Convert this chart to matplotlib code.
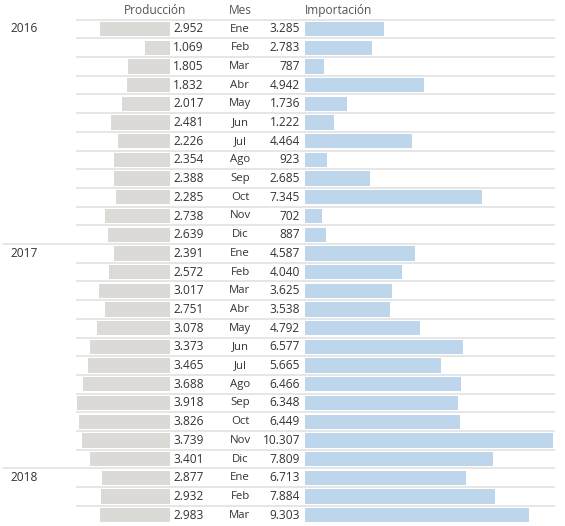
import numpy as np
import matplotlib
matplotlib.use("Agg")
from matplotlib import pyplot as plt

plt.rcParams['font.family'] = ['Open Sans', 'DejaVu Sans']

years = ["2016"] * 12 + ["2017"] * 12 + ["2018"] * 3
meses = ["Ene", "Feb", "Mar", "Abr", "May", "Jun", "Jul", "Ago", "Sep", "Oct", "Nov", "Dic"] * 2 + ["Ene", "Feb", "Mar"]
produccion = [2.952, 1.069, 1.805, 1.832, 2.017, 2.481, 2.226, 2.354, 2.388, 2.285, 2.738, 2.639,
              2.391, 2.572, 3.017, 2.751, 3.078, 3.373, 3.465, 3.688, 3.918, 3.826, 3.739, 3.401,
              2.877, 2.932, 2.983]
importacion = [3.285, 2.783, 0.787, 4.942, 1.736, 1.222, 4.464, 0.923, 2.685, 7.345, 0.702, 0.887,
               4.587, 4.040, 3.625, 3.538, 4.792, 6.577, 5.665, 6.466, 6.348, 6.449, 10.307, 7.809,
               6.713, 7.884, 9.303]


def fmt(v):
    # miles con punto, como en el original
    n = int(round(v * 1000))
    return "{:,}".format(n).replace(",", ".")


W, H = 565, 526
pitch = 18.7
top = 29.0
ylim = ((H - top) / pitch, -top / pitch)

fig = plt.figure(figsize=(W / 100, H / 100), dpi=100)
fig.patch.set_facecolor("white")

ax = fig.add_axes([0, 0, 1, 1])
ax.set_xlim(0, W)
ax.set_ylim(*ylim)
ax.axis("off")

rows = np.arange(len(meses))

# bars: production to the left, import to the right
ax_p = fig.add_axes([0, 0, 170.5 / W, 1])
ax_p.set_xlim(170.5 / 23.8, 0)
ax_p.set_ylim(*ylim)
ax_p.axis("off")
ax_p.barh(rows, produccion, height=0.76, color="#dcdad7")

ax_i = fig.add_axes([305 / W, 0, (W - 305) / W, 1])
ax_i.set_xlim(0, (W - 305) / 24.05)
ax_i.set_ylim(*ylim)
ax_i.axis("off")
ax_i.barh(rows, importacion, height=0.76, color="#bed6ec")

txt = "#333333"
fs = 8.6

# header
ax.text(155, -1, "Producción", ha="center", va="center", fontsize=fs, color="#555555")
ax.text(240, -1, "Mes", ha="center", va="center", fontsize=fs, color="#555555")
ax.text(305, -1, "Importación", ha="left", va="center", fontsize=fs, color="#555555")

line_c = "#e2e2e2"
ax.hlines(-0.5, 76, 555, color=line_c, lw=1.2)

for r in rows:
    ax.text(173, r, fmt(produccion[r]), ha="left", va="center", fontsize=fs, color=txt)
    ax.text(240, r, meses[r], ha="center", va="center", fontsize=fs - 0.4, color=txt)
    ax.text(300, r, fmt(importacion[r]), ha="right", va="center", fontsize=fs, color=txt)
    if r > 0 and years[r] != years[r - 1]:
        ax.text(10, r, years[r], ha="left", va="center", fontsize=fs, color=txt)
        ax.hlines(r - 0.5, 3, 555, color=line_c, lw=1.2)
    elif r == 0:
        ax.text(10, r, years[r], ha="left", va="center", fontsize=fs, color=txt)
    if r < len(rows) - 1 and years[r + 1] == years[r]:
        ax.hlines(r + 0.5, 76, 555, color=line_c, lw=1.2)

fig.savefig("out.png", dpi=100, facecolor="white")
